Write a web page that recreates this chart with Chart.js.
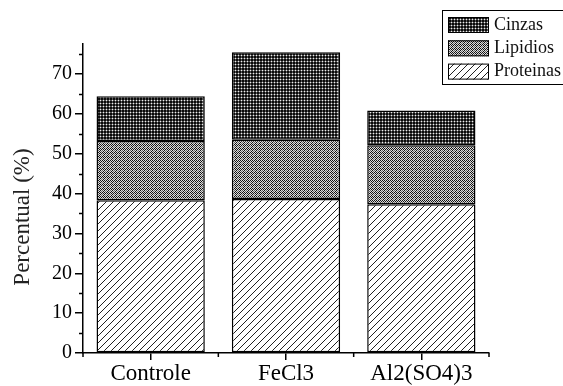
<!DOCTYPE html>
<html>
<head>
<meta charset="utf-8">
<script src="https://cdn.jsdelivr.net/npm/chart.js@4"></script>
<style>
  body { margin: 0; background: #fff; }
  #wrap { width: 563px; height: 386px; position: relative; }
</style>
</head>
<body>
<div id="wrap"><canvas id="chart"></canvas></div>
<script>
const categories = ["Controle", "FeCl3", "Al2(SO4)3"];
const proteinas = [38.3, 38.6, 37.3];
const lipidios = [14.9, 14.9, 14.8];
const cinzas = [11.2, 21.9, 8.7];
const yMajorTicks = [0, 10, 20, 30, 40, 50, 60, 70];
const yMinorTicks = [5, 15, 25, 35, 45, 55, 65, 75];
const yTitle = "Percentual (%)";

const serif = "'Liberation Serif', 'Times New Roman', serif";

function makePattern(w, h, draw) {
  const c = document.createElement("canvas");
  c.width = w;
  c.height = h;
  const g = c.getContext("2d");
  draw(g);
  return g.createPattern(c, "repeat");
}

// diagonal hatch
const hatch = makePattern(7, 7, (g) => {
  g.fillStyle = "#fff";
  g.fillRect(0, 0, 7, 7);
  g.fillStyle = "#222";
  for (let i = 0; i < 7; i++) g.fillRect(i, 6 - i, 1, 1);
});

// fine checker
const checker = makePattern(4, 4, (g) => {
  g.fillStyle = "#dcdcdc";
  g.fillRect(0, 0, 4, 4);
  g.fillStyle = "#111";
  g.fillRect(0, 0, 1, 1);
  g.fillRect(2, 0, 1, 1);
  g.fillRect(1, 1, 1, 1);
  g.fillRect(3, 1, 1, 1);
  g.fillRect(0, 2, 1, 1);
  g.fillRect(3, 3, 1, 1);
  g.fillStyle = "#666";
  g.fillRect(2, 2, 1, 1);
  g.fillRect(1, 3, 1, 1);
});

// dark mesh
const mesh = makePattern(3, 3, (g) => {
  g.fillStyle = "#0a0a0a";
  g.fillRect(0, 0, 3, 3);
  g.fillStyle = "#555";
  g.fillRect(1, 0, 1, 3);
  g.fillRect(0, 1, 3, 1);
  g.fillStyle = "#eee";
  g.fillRect(1, 1, 1, 1);
});

const extras = {
  id: "extras",
  afterDraw(chart) {
    const ctx = chart.ctx;
    const x = chart.scales.x;
    const y = chart.scales.y;
    ctx.save();
    ctx.strokeStyle = "#000";
    ctx.lineWidth = 1.5;

    // minor ticks
    ctx.beginPath();
    yMinorTicks.forEach((v) => {
      const py = Math.round(y.getPixelForValue(v)) + 0.5;
      ctx.moveTo(y.right - 4, py);
      ctx.lineTo(y.right, py);
    });
    for (let i = 0; i <= categories.length; i++) {
      let px;
      if (i === 0) px = x.left;
      else if (i === categories.length) px = x.right;
      else px = (x.getPixelForValue(i - 1) + x.getPixelForValue(i)) / 2;
      ctx.moveTo(px, x.top);
      ctx.lineTo(px, x.top + 4);
    }
    ctx.stroke();

    // y title
    ctx.save();
    ctx.translate(23, 217);
    ctx.rotate(-Math.PI / 2);
    ctx.font = "23px " + serif;
    ctx.fillStyle = "#222";
    ctx.textAlign = "center";
    ctx.textBaseline = "middle";
    ctx.fillText(yTitle, 0, 0);
    ctx.restore();

    // legend box
    ctx.lineWidth = 1;
    ctx.strokeRect(442.5, 10.5, 130, 74);
    const sets = chart.data.datasets.slice().reverse();
    ctx.font = "18px " + serif;
    ctx.textBaseline = "middle";
    ctx.textAlign = "left";
    sets.forEach((ds, i) => {
      const top = 17 + i * 23.3;
      ctx.fillStyle = ds.backgroundColor;
      ctx.fillRect(448, top, 41, 16);
      ctx.strokeRect(448.5, top + 0.5, 40, 15);
      ctx.fillStyle = "#111";
      ctx.fillText(ds.label, 494, top + 8);
    });
    ctx.restore();
  },
};

new Chart(document.getElementById("chart"), {
  type: "bar",
  data: {
    labels: categories,
    datasets: [
      { label: "Proteinas", data: proteinas, backgroundColor: hatch },
      { label: "Lipidios", data: lipidios, backgroundColor: checker },
      { label: "Cinzas", data: cinzas, backgroundColor: mesh },
    ].map((d) => ({
      ...d,
      borderColor: "#000",
      borderWidth: 1.5,
      borderSkipped: false,
      barPercentage: 1,
      categoryPercentage: 0.8,
    })),
  },
  options: {
    responsive: true,
    maintainAspectRatio: false,
    animation: false,
    layout: { padding: { top: 44, right: 74, left: 0, bottom: 0 } },
    plugins: {
      legend: { display: false },
      tooltip: { enabled: false },
    },
    scales: {
      x: {
        stacked: true,
        offset: true,
        grid: { display: true, drawOnChartArea: false, offset: false, tickLength: 7, color: "#000", lineWidth: 1.5 },
        border: { color: "#000", width: 1.5 },
        ticks: { color: "#000", font: { family: serif, size: 23 }, padding: 0, maxRotation: 0 },
        afterFit: (s) => { s.height = 33; },
      },
      y: {
        stacked: true,
        min: 0,
        max: 77.5,
        afterBuildTicks: (s) => { s.ticks = yMajorTicks.map((v) => ({ value: v })); },
        grid: { display: true, drawOnChartArea: false, tickLength: 8, color: "#000", lineWidth: 1.5 },
        border: { color: "#000", width: 1.5 },
        ticks: { color: "#000", font: { family: serif, size: 20 }, padding: 3 },
        afterFit: (s) => { s.width = 83; },
      },
    },
  },
  plugins: [extras],
});
</script>
</body>
</html>
